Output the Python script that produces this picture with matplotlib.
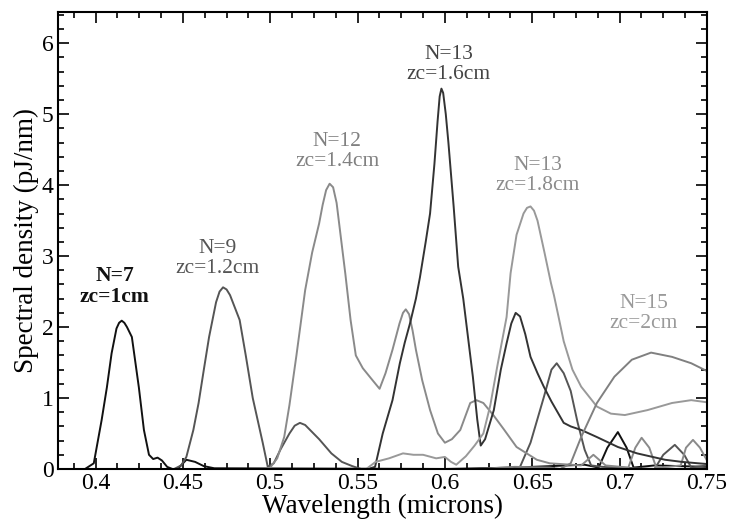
import matplotlib
matplotlib.use("Agg")
import matplotlib.pyplot as plt
from matplotlib.ticker import MultipleLocator

plt.rcParams['font.family'] = ['Liberation Serif', 'DejaVu Serif']

# ---- data (wavelength in microns, pJ/nm) ----
x_n7 = [0.378, 0.394, 0.399, 0.4035, 0.4065, 0.4092, 0.412, 0.4135, 0.415, 0.4165,
        0.418, 0.4208, 0.4248, 0.4277, 0.4306, 0.433, 0.4355, 0.438, 0.441, 0.444,
        0.447, 0.452, 0.457, 0.462, 0.468, 0.60, 0.64, 0.68, 0.688, 0.693,
        0.699, 0.704, 0.708, 0.72, 0.75]
y_n7 = [0, 0, 0.08, 0.69, 1.15, 1.63, 1.98, 2.06, 2.09, 2.06,
        2.0, 1.86, 1.15, 0.55, 0.2, 0.14, 0.16, 0.12, 0.03, 0,
        0.0, 0.13, 0.1, 0.04, 0.01, 0.0, 0.02, 0.06, 0.02, 0.3,
        0.52, 0.3, 0.02, 0.05, 0.03]

x_n9 = [0.378, 0.445, 0.449, 0.452, 0.456, 0.459, 0.462, 0.465, 0.469, 0.471,
        0.473, 0.475, 0.477, 0.4825, 0.486, 0.49, 0.4957, 0.4986, 0.502, 0.506,
        0.511, 0.514, 0.517, 0.520, 0.524, 0.528, 0.535, 0.541, 0.547, 0.552,
        0.64, 0.643, 0.649, 0.6566, 0.661, 0.664, 0.668, 0.672, 0.676, 0.680,
        0.6837, 0.69, 0.72, 0.725, 0.7316, 0.737, 0.741, 0.75]
y_n9 = [0, 0, 0.05, 0.17, 0.55, 0.93, 1.4, 1.86, 2.35, 2.5,
        2.56, 2.53, 2.45, 2.1, 1.6, 1.0, 0.37, 0.03, 0.08, 0.28,
        0.5, 0.61, 0.65, 0.62, 0.52, 0.42, 0.22, 0.1, 0.04, 0.0,
        0.0, 0.03, 0.37, 1.01, 1.4, 1.49, 1.35, 1.1, 0.65, 0.27,
        0.05, 0.03, 0.0, 0.2, 0.34, 0.2, 0.02, 0.05]

x_n12 = [0.378, 0.497, 0.5, 0.504, 0.508, 0.511, 0.515, 0.52, 0.524, 0.528,
         0.530, 0.532, 0.534, 0.536, 0.538, 0.540, 0.543, 0.546, 0.549, 0.553,
         0.5586, 0.5626, 0.566, 0.570, 0.574, 0.576, 0.5776, 0.5795, 0.5815, 0.5834,
         0.587, 0.5915, 0.596, 0.600, 0.604, 0.6088, 0.6145, 0.618, 0.622, 0.628,
         0.634, 0.641, 0.6526, 0.66, 0.678, 0.685, 0.692, 0.705, 0.709, 0.7126,
         0.717, 0.721, 0.728, 0.735, 0.738, 0.742, 0.746, 0.75]
y_n12 = [0, 0, 0.02, 0.15, 0.45, 0.9, 1.6, 2.52, 3.05, 3.46,
         3.72, 3.93, 4.02, 3.97, 3.75, 3.35, 2.75, 2.1, 1.6, 1.42,
         1.25, 1.13, 1.35, 1.68, 2.05, 2.2, 2.25, 2.18, 1.95, 1.68,
         1.25, 0.83, 0.5, 0.37, 0.42, 0.55, 0.93, 0.97, 0.93, 0.75,
         0.55, 0.31, 0.13, 0.08, 0.05, 0.2, 0.05, 0.02, 0.3, 0.44,
         0.3, 0.02, 0.03, 0.05, 0.3, 0.41, 0.3, 0.12]

x_n13a = [0.378, 0.556, 0.560, 0.5644, 0.570, 0.5742, 0.577, 0.580, 0.5834, 0.5857,
          0.589, 0.5915, 0.594, 0.5958, 0.597, 0.598, 0.599, 0.6005, 0.602, 0.605,
          0.6076, 0.6105, 0.613, 0.616, 0.6185, 0.6205, 0.623, 0.628, 0.632, 0.6353,
          0.638, 0.6405, 0.643, 0.646, 0.649, 0.653, 0.6566, 0.661, 0.668, 0.672,
          0.678, 0.687, 0.699, 0.710, 0.726, 0.7357, 0.745, 0.75]
y_n13a = [0, 0, 0.03, 0.5, 0.97, 1.49, 1.78, 2.05, 2.4, 2.7,
          3.2, 3.6, 4.3, 4.9, 5.25, 5.36, 5.3, 5.0, 4.6, 3.7,
          2.85, 2.4, 1.9, 1.3, 0.7, 0.33, 0.42, 0.83, 1.4, 1.77,
          2.05, 2.2, 2.15, 1.9, 1.58, 1.35, 1.16, 0.95, 0.65, 0.6,
          0.55, 0.45, 0.31, 0.22, 0.13, 0.1, 0.08, 0.07]

x_n13b = [0.378, 0.555, 0.5603, 0.568, 0.576, 0.582, 0.5875, 0.595, 0.600, 0.6035,
          0.6065, 0.612, 0.617, 0.622, 0.626, 0.630, 0.6353, 0.6376, 0.641, 0.645,
          0.647, 0.649, 0.651, 0.653, 0.657, 0.6607, 0.6624, 0.665, 0.668, 0.673,
          0.678, 0.687, 0.695, 0.703, 0.716, 0.730, 0.741, 0.75]
y_n13b = [0, 0, 0.1, 0.15, 0.22, 0.2, 0.2, 0.15, 0.17, 0.1,
          0.06, 0.18, 0.33, 0.5, 0.9, 1.45, 2.14, 2.76, 3.3, 3.6,
          3.68, 3.70, 3.64, 3.5, 3.05, 2.62, 2.45, 2.15, 1.8, 1.4,
          1.16, 0.88, 0.78, 0.76, 0.83, 0.93, 0.97, 0.94]

x_n15 = [0.378, 0.62, 0.64, 0.66, 0.666, 0.672, 0.678, 0.687, 0.697, 0.707,
         0.718, 0.730, 0.741, 0.75]
y_n15 = [0, 0, 0.03, 0.02, 0.0, 0.08, 0.45, 0.93, 1.3, 1.54,
         1.64, 1.58, 1.49, 1.38]

x_ticks = [0.4, 0.45, 0.5, 0.55, 0.6, 0.65, 0.7, 0.75]
x_tick_labels = ['0.4', '0.45', '0.5', '0.55', '0.6', '0.65', '0.7', '0.75']
y_ticks = [0, 1, 2, 3, 4, 5, 6]

series = [
    (x_n7, y_n7, '#111111', 'N=7\nzc=1cm', 0.411, 2.57, '#111111', 'bold'),
    (x_n9, y_n9, '#555555', 'N=9\nzc=1.2cm', 0.470, 2.97, '#555555', 'normal'),
    (x_n12, y_n12, '#8a8a8a', 'N=12\nzc=1.4cm', 0.5384, 4.47, '#808080', 'normal'),
    (x_n13a, y_n13a, '#333333', 'N=13\nzc=1.6cm', 0.602, 5.70, '#444444', 'normal'),
    (x_n13b, y_n13b, '#999999', 'N=13\nzc=1.8cm', 0.653, 4.14, '#8c8c8c', 'normal'),
    (x_n15, y_n15, '#808080', 'N=15\nzc=2cm', 0.714, 2.19, '#9a9a9a', 'normal'),
]

fig = plt.figure(figsize=(7.31, 5.26), dpi=100)
ax = fig.add_axes([0.0793, 0.1084, 0.8878, 0.8688])

for xs, ys, col, lab, lx, ly, tcol, wt in series:
    ax.plot(xs, ys, color=col, lw=1.4)
    ax.text(lx, ly, lab, color=tcol, fontsize=15.5, ha='center', va='center',
            linespacing=1.1, fontweight=wt)

ax.set_xlim(0.3785, 0.75)
ax.set_ylim(0, 6.44)
ax.set_xticks(x_ticks)
ax.set_xticklabels(x_tick_labels)
ax.set_yticks(y_ticks)
ax.xaxis.set_minor_locator(MultipleLocator(0.0125))
ax.yaxis.set_minor_locator(MultipleLocator(0.2))
ax.tick_params(which='both', direction='in', top=True, right=True,
               labelsize=17, width=1.2, pad=3)
ax.tick_params(which='major', length=8)
ax.tick_params(which='minor', length=4)
for sp in ax.spines.values():
    sp.set_linewidth(1.5)

ax.set_xlabel('Wavelength (microns)', fontsize=19.5, labelpad=0)
ax.set_ylabel('Spectral density (pJ/nm)', fontsize=19.5, labelpad=2)

fig.savefig('out.png', dpi=100)
